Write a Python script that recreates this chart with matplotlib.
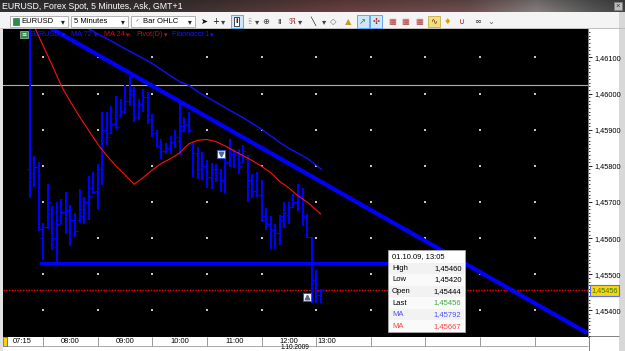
import numpy as np
import matplotlib
matplotlib.use("Agg")
import matplotlib.pyplot as plt
from matplotlib.patches import Rectangle

plt.rcParams['font.family'] = ['Liberation Sans', 'DejaVu Sans']

# ---------------- data ----------------
title_text = "EURUSD, Forex Spot, 5 Minutes, Ask, GMT+1"
first_bar = -3   # bar index of first bar (0 = 08:00, 5-minute bars)
bar_high = [1.46400, 1.45826, 1.45811, 1.45642, 1.45749, 1.45688, 1.45700, 1.45709, 1.45727, 1.45691,
            1.45669, 1.45735, 1.45714, 1.45771, 1.45783, 1.45806, 1.45949, 1.45949, 1.45967, 1.45992,
            1.45986, 1.46025, 1.46050, 1.46018, 1.45986, 1.46013, 1.46004, 1.45944, 1.45898, 1.45875,
            1.45863, 1.45884, 1.45900, 1.45981, 1.45935, 1.45949, 1.45866, 1.45852, 1.45838, 1.45817,
            1.45808, 1.45806, 1.45792, 1.45829, 1.45875, 1.45848, 1.45848, 1.45859, 1.45829, 1.45777,
            1.45782, 1.45762, 1.45684, 1.45660, 1.45640, 1.45663, 1.45700, 1.45700, 1.45725, 1.45749,
            1.45740, 1.45668, 1.45603, 1.45511, 1.45460]
bar_low = [1.45710, 1.45741, 1.45620, 1.45539, 1.45626, 1.45568, 1.45530, 1.45638, 1.45611, 1.45578,
           1.45603, 1.45642, 1.45638, 1.45649, 1.45723, 1.45682, 1.45746, 1.45857, 1.45889, 1.45903,
           1.45935, 1.45944, 1.45967, 1.45921, 1.45928, 1.45949, 1.45917, 1.45880, 1.45852, 1.45820,
           1.45832, 1.45834, 1.45850, 1.45829, 1.45893, 1.45891, 1.45769, 1.45765, 1.45760, 1.45740,
           1.45737, 1.45755, 1.45729, 1.45725, 1.45797, 1.45795, 1.45778, 1.45808, 1.45700, 1.45712,
           1.45715, 1.45645, 1.45622, 1.45571, 1.45571, 1.45580, 1.45629, 1.45640, 1.45684, 1.45675,
           1.45633, 1.45601, 1.45420, 1.45420, 1.45420]
bar_open = [1.45790, 1.45780, 1.45797, 1.45600, 1.45631, 1.45680, 1.45575, 1.45650, 1.45672, 1.45670,
            1.45651, 1.45650, 1.45660, 1.45700, 1.45740, 1.45730, 1.45790, 1.45900, 1.45890, 1.45920,
            1.45940, 1.45950, 1.45980, 1.46000, 1.45935, 1.45970, 1.45990, 1.45930, 1.45890, 1.45855,
            1.45840, 1.45850, 1.45865, 1.45870, 1.45910, 1.45915, 1.45860, 1.45830, 1.45790, 1.45800,
            1.45770, 1.45790, 1.45780, 1.45760, 1.45810, 1.45834, 1.45830, 1.45810, 1.45820, 1.45760,
            1.45730, 1.45720, 1.45660, 1.45640, 1.45610, 1.45615, 1.45650, 1.45665, 1.45686, 1.45700,
            1.45716, 1.45654, 1.45603, 1.45485, 1.45444]
bar_close = [1.45770, 1.45797, 1.45625, 1.45631, 1.45700, 1.45600, 1.45640, 1.45672, 1.45677, 1.45651,
             1.45620, 1.45680, 1.45700, 1.45716, 1.45728, 1.45790, 1.45900, 1.45880, 1.45915, 1.45907,
             1.45952, 1.45980, 1.46010, 1.45935, 1.45970, 1.45990, 1.45930, 1.45890, 1.45854, 1.45840,
             1.45850, 1.45865, 1.45880, 1.45900, 1.45912, 1.45900, 1.45835, 1.45790, 1.45800, 1.45770,
             1.45790, 1.45790, 1.45760, 1.45810, 1.45834, 1.45830, 1.45800, 1.45840, 1.45760, 1.45730,
             1.45720, 1.45651, 1.45640, 1.45622, 1.45614, 1.45660, 1.45669, 1.45686, 1.45700, 1.45716,
             1.45660, 1.45603, 1.45485, 1.45444, 1.45456]

ma24_idx = [-3, -2, 0, 2, 4, 6, 8, 10, 12, 14, 16, 18, 20, 22, 24, 26, 28, 30, 32, 34, 36, 38, 40,
            42, 44, 46, 48, 50, 52, 54, 56, 58, 60, 61]
ma24_val = [1.46215, 1.46187, 1.46132, 1.46078, 1.46021, 1.45977, 1.45936, 1.45898, 1.45860, 1.45828,
            1.45800, 1.45775, 1.45749, 1.45768, 1.45789, 1.45807, 1.45820, 1.45836, 1.45861, 1.45871,
            1.45873, 1.45867, 1.45855, 1.45841, 1.45828, 1.45814, 1.45799, 1.45781, 1.45757, 1.45739,
            1.45717, 1.45700, 1.45678, 1.45667]
ma72_idx = [8, 10, 12, 14, 16, 18, 20, 22, 24, 26, 28, 30, 32, 34, 36, 38, 40, 42, 44, 46, 48, 50,
            52, 54, 56, 58, 60, 61]
ma72_val = [1.46193, 1.46179, 1.46165, 1.46152, 1.46138, 1.46124, 1.46111, 1.46097, 1.46083, 1.46066,
            1.46049, 1.46033, 1.46023, 1.46005, 1.45990, 1.45976, 1.45961, 1.45947, 1.45933, 1.45917,
            1.45901, 1.45883, 1.45865, 1.45848, 1.45835, 1.45821, 1.45802, 1.45792]

trend_idx = [0.0, 119.5]
trend_val = [1.46193, 1.45338]
support_idx = [-1.0, 76.5]
support_val = [1.45531, 1.45531]
pivot_val = 1.46024
last_price = 1.45456
marker_idx = [39.0, 58.0]
marker_val = [1.45832, 1.45436]

price_ticks = [1.454, 1.455, 1.456, 1.457, 1.458, 1.459, 1.460, 1.461]
hour_idx = [0, 12, 24, 36, 48, 60, 72, 84, 96, 108]
time_labels = ["07:15", "08:00", "09:00", "10:00", "11:00", "12:00", "13:00"]
time_label_idx = [-4.7, 6, 18, 30, 42, 54, 62.4]
date_label = "1.10.2009"
tooltip_time = "01.10.09, 13:05"
legend_names = ["EURUSD", "MA 72", "MA 24", "Pivot(D)", "Fibonacci 1"]
legend_colors = ["#1414ff", "#1414ff", "#e00000", "#b01818", "#1414ff"]

# ---------------- figure ----------------
W, H, DPI = 625, 351, 100
fig = plt.figure(figsize=(W / DPI, H / DPI), dpi=DPI)
fig.patch.set_facecolor('white')


def frect(x0, y0, x1, y1):
    return [x0 / W, 1 - y1 / H, (x1 - x0) / W, (y1 - y0) / H]


ui = fig.add_axes([0, 0, 1, 1], zorder=0)
ax = fig.add_axes(frect(3, 28.5, 588, 336.5), zorder=1)
top = fig.add_axes([0, 0, 1, 1], zorder=3)
for a in (ui, top):
    a.set_xlim(0, W)
    a.set_ylim(H, 0)
    a.axis('off')

ax.set_facecolor('black')
ax.set_xlim(-8.83, 119.74)
ax.set_ylim(1.453279, 1.461801)


def px(i):
    return ax.transData.transform((i, 1.457))[0]


def py(p):
    return H - ax.transData.transform((0, p))[1]


# ---- window chrome ----
stops = np.array([0.0, 0.3, 0.55, 0.75, 0.86, 0.95, 1.0])
cols = np.array([(48, 48, 50), (58, 48, 48), (100, 62, 62), (105, 76, 76),
                 (128, 120, 120), (82, 82, 82), (64, 64, 64)]) / 255.0
xs = np.linspace(0, 1, 300)
row = np.stack([np.interp(xs, stops, cols[:, k]) for k in range(3)], axis=-1)
shade = np.linspace(0.85, 1.05, 12)[:, None, None]
grad = np.clip(row[None, :, :] * shade, 0, 1)
ui.imshow(grad, extent=(0, W, 12, 0), aspect='auto', interpolation='bilinear', zorder=0)
ui.set_xlim(0, W)
ui.set_ylim(H, 0)
ui.text(2, 6.3, title_text, color='white', fontsize=6.3, va='center', zorder=2)
ui.add_patch(Rectangle((613.5, 2), 8, 8, fc='#bdbdbd', ec='#808080', lw=0.5, zorder=2))
ui.text(617.5, 6.2, "×", fontsize=5.5, ha='center', va='center', color='#303030', zorder=3)

# toolbar
ui.add_patch(Rectangle((0, 12), W, 16.5, fc='#f4f4f4', ec='none', zorder=1))
ui.hlines(28.3, 0, W, color='#b8b8b8', lw=0.6, zorder=2)


def combo(x0, x1, text, tx):
    ui.add_patch(Rectangle((x0, 15.5), x1 - x0, 11.5, fc='white', ec='#a8a8a8', lw=0.6, zorder=2))
    ui.text(tx, 21.4, text, fontsize=5.5, va='center', color='black', zorder=3)
    ui.text(x1 - 5, 21.6, "▾", fontsize=5.5, ha='center', va='center', color='#202020', zorder=3,
            family='DejaVu Sans')


combo(10, 68, "EURUSD", 21.5)
ui.add_patch(Rectangle((12.5, 17.5), 6.5, 7, fc='#2b8c4e', ec='#1a5e30', lw=0.4, zorder=3))
combo(71, 128, "5 Minutes", 73.5)
combo(131, 195, "Bar OHLC", 143)
ui.text(135.5, 21.4, "ᐟ", fontsize=5, color='#303030', va='center', zorder=3, family='DejaVu Sans')

icons = [(204, "➤", '#101010'), (216, "+", '#101010'), (223, "▾", '#404040'),
         (250, "⁞⁞", '#707070'), (257, "▾", '#404040'), (266, "⊕", '#404040'),
         (280, "ıı", '#303030'), (292, "ℜ", '#a03030'), (300, "▾", '#404040'),
         (313, "╲", '#202020'), (324, "▾", '#404040'), (333, "◇", '#606060'),
         (348, "▲", '#c0a020'), (392, "▦", '#b04040'), (405, "▦", '#b04040'),
         (419, "▦", '#b04040'), (447, "♦", '#e0a000'), (462, "∪", '#c02020'),
         (478, "∞", '#303030'), (491, "⌄", '#606060')]
for x, g, c in icons:
    ui.text(x, 21.4, g, fontsize=6, ha='center', va='center', color=c, zorder=3, family='DejaVu Sans')
for x0 in (230.5, 356.5, 369.5):
    ui.add_patch(Rectangle((x0, 14.5), 12.5, 13, fc='#cfe5f8', ec='#4aa0f0', lw=0.6, zorder=2))
ui.text(236.7, 21.4, "i", fontsize=6, ha='center', va='center', color='black', weight='bold', zorder=3,
        bbox=dict(boxstyle='square,pad=0.15', fc='white', ec='black', lw=0.5))
ui.text(362.7, 21.4, "↗", fontsize=6, ha='center', va='center', color='#2a8a2a', zorder=3, family='DejaVu Sans')
ui.text(375.7, 21.4, "✣", fontsize=6, ha='center', va='center', color='#a02020', zorder=3, family='DejaVu Sans')
ui.add_patch(Rectangle((428, 15.5), 12, 11, fc='#f0e080', ec='#c0a030', lw=0.5, zorder=2))
ui.text(434, 21.4, "∿", fontsize=6, ha='center', va='center', color='#802020', zorder=3, family='DejaVu Sans')

# borders and axes areas
ui.add_patch(Rectangle((0, 28.5), 3, 322.5, fc='#e2e2e2', ec='none', zorder=1))
ui.add_patch(Rectangle((619, 12), 6, 339, fc='#d8d8d8', ec='none', zorder=1))
ui.vlines(588.5, 336, H, color='#808080', lw=0.7, zorder=2)
ui.hlines(336.2, 588, 619, color='#808080', lw=0.7, zorder=2)

# time strip
ui.hlines(345.5, 6.5, 588, color='#9a9a9a', lw=0.6, zorder=2)
ui.vlines([6.5] + [px(i) for i in hour_idx], 336.5, 345.5, color='#8a8a8a', lw=0.6, zorder=2)
ui.add_patch(Rectangle((3, 337), 3.5, 8.5, fc='#ffd000', ec='#3050ff', lw=0.5, zorder=3))
for lab, i in zip(time_labels, time_label_idx):
    ui.text(px(i), 341.3, lab, ha='center', va='center', fontsize=5.4, color='black', zorder=3)
ui.text(px(55.3), 350.6, date_label, ha='center', va='bottom', fontsize=4.7, color='black', zorder=3)

# ---- chart ----
ax.yaxis.tick_right()
ax.set_yticks(price_ticks)
ax.set_yticklabels([f"{p:.5f}".replace('.', ',') for p in price_ticks])
ax.set_yticks(np.arange(1.4533, 1.4618, 0.0001), minor=True)
ax.tick_params(axis='y', which='major', length=3.2, width=0.6, pad=1.6, labelsize=5.3, colors='black')
ax.tick_params(axis='y', which='minor', length=1.6, width=0.5, colors='black')
ax.tick_params(axis='y', which='both', left=False, right=True, labelleft=False, labelright=True)
ax.set_xticks([])
for s in ('top', 'left', 'bottom'):
    ax.spines[s].set_visible(False)
ax.spines['right'].set_color('#808080')
ax.spines['right'].set_linewidth(0.7)

gx, gy = np.meshgrid(hour_idx, price_ticks)
ax.scatter(gx.ravel(), gy.ravel(), s=0.7, marker='s', c='#c4c4c4', linewidths=0, zorder=1)

ax.axhline(pivot_val, color='#c8a494', lw=0.8, zorder=2)
ax.axhline(last_price, color='#ff0000', lw=1.0, ls=(0, (1, 1)), zorder=2)

idx = np.arange(len(bar_high)) + first_bar
BLUE = '#0000ff'
ax.vlines(idx, bar_low, bar_high, color=BLUE, lw=1.5, zorder=3)
ax.hlines(bar_open, idx - 0.65, idx, color=BLUE, lw=0.8, zorder=3)
ax.hlines(bar_close, idx, idx + 0.65, color=BLUE, lw=0.8, zorder=3)

ax.plot(ma72_idx, ma72_val, color='#1010ff', lw=1.0, zorder=4)
ax.plot(ma24_idx, ma24_val, color='#ff1010', lw=0.8, zorder=4)
ax.plot(trend_idx, trend_val, color=BLUE, lw=3.0, solid_capstyle='butt', zorder=5)
ax.plot(support_idx, support_val, color=BLUE, lw=2.2, solid_capstyle='butt', zorder=5)

ax.plot(marker_idx, marker_val, ls='none', marker='s', ms=6.2, mfc='white', mec='#3355cc', mew=0.8, zorder=6)
ax.plot(marker_idx[0], marker_val[0], marker='v', ms=3.2, color='#506a90', zorder=7)
ax.plot(marker_idx[1], marker_val[1], marker='^', ms=3.2, color='#506a90', zorder=7)

# ---- legend (overlay) ----
top.add_patch(Rectangle((20, 30.8), 8, 7, fc='#2b8c4e', ec='#bfe0c8', lw=0.4))
top.text(24, 34.3, "≡", fontsize=4.5, ha='center', va='center', color='white', family='DejaVu Sans')
legend_x = [29.5, 71, 104, 136, 172]
arrow_x = [63.5, 96, 127.5, 166, 211.5]
for name, c, x, axx in zip(legend_names, legend_colors, legend_x, arrow_x):
    top.text(x, 34.3, name, color=c, fontsize=5.2, va='center')
    top.text(axx, 34.6, "▾", color=c, fontsize=5.0, ha='center', va='center', family='DejaVu Sans')

# ---- price label ----
yl = py(last_price)
top.add_patch(Rectangle((589.5, yl - 5.3), 29.5, 10.6, fc='#ffd400', ec='#5a6cff', lw=0.8))
top.text(604.2, yl + 0.2, f"{last_price:.5f}".replace('.', ','), ha='center', va='center',
         fontsize=5.2, color='#2a7a20')

# ---- tooltip ----
tx0, tx1, ty0, ty1 = 388, 465, 250, 332
top.add_patch(Rectangle((tx0, ty0), tx1 - tx0, ty1 - ty0, fc='white', ec='#a8a8a8', lw=0.6))
rows = [("High", bar_high[-1], 'black', 'black'),
        ("Low", bar_low[-1], 'black', 'black'),
        ("Open", bar_open[-1], 'black', 'black'),
        ("Last", bar_close[-1], 'black', '#40a840'),
        ("MA", ma72_val[-1], '#5050ff', '#5050ff'),
        ("MA", ma24_val[-1], '#ff4040', '#ff4040')]
top.text(392, 256.5, tooltip_time, fontsize=5.5, va='center', color='black')
rh = (ty1 - 262.5) / len(rows)
for k, (lab, v, lc, vc) in enumerate(rows):
    y0 = 262.5 + k * rh
    fc = '#f2f2f2' if k % 2 == 0 else '#fafafa'
    top.add_patch(Rectangle((tx0 + 0.6, y0), tx1 - tx0 - 1.2, rh, fc=fc, ec='none'))
    top.text(392, y0 + rh / 2, lab, fontsize=5.5, va='center', color=lc)
    top.text(461.5, y0 + rh / 2, f"{v:.5f}".replace('.', ','), fontsize=5.5, va='center', ha='right', color=vc)

fig.savefig("out.png", dpi=DPI)
